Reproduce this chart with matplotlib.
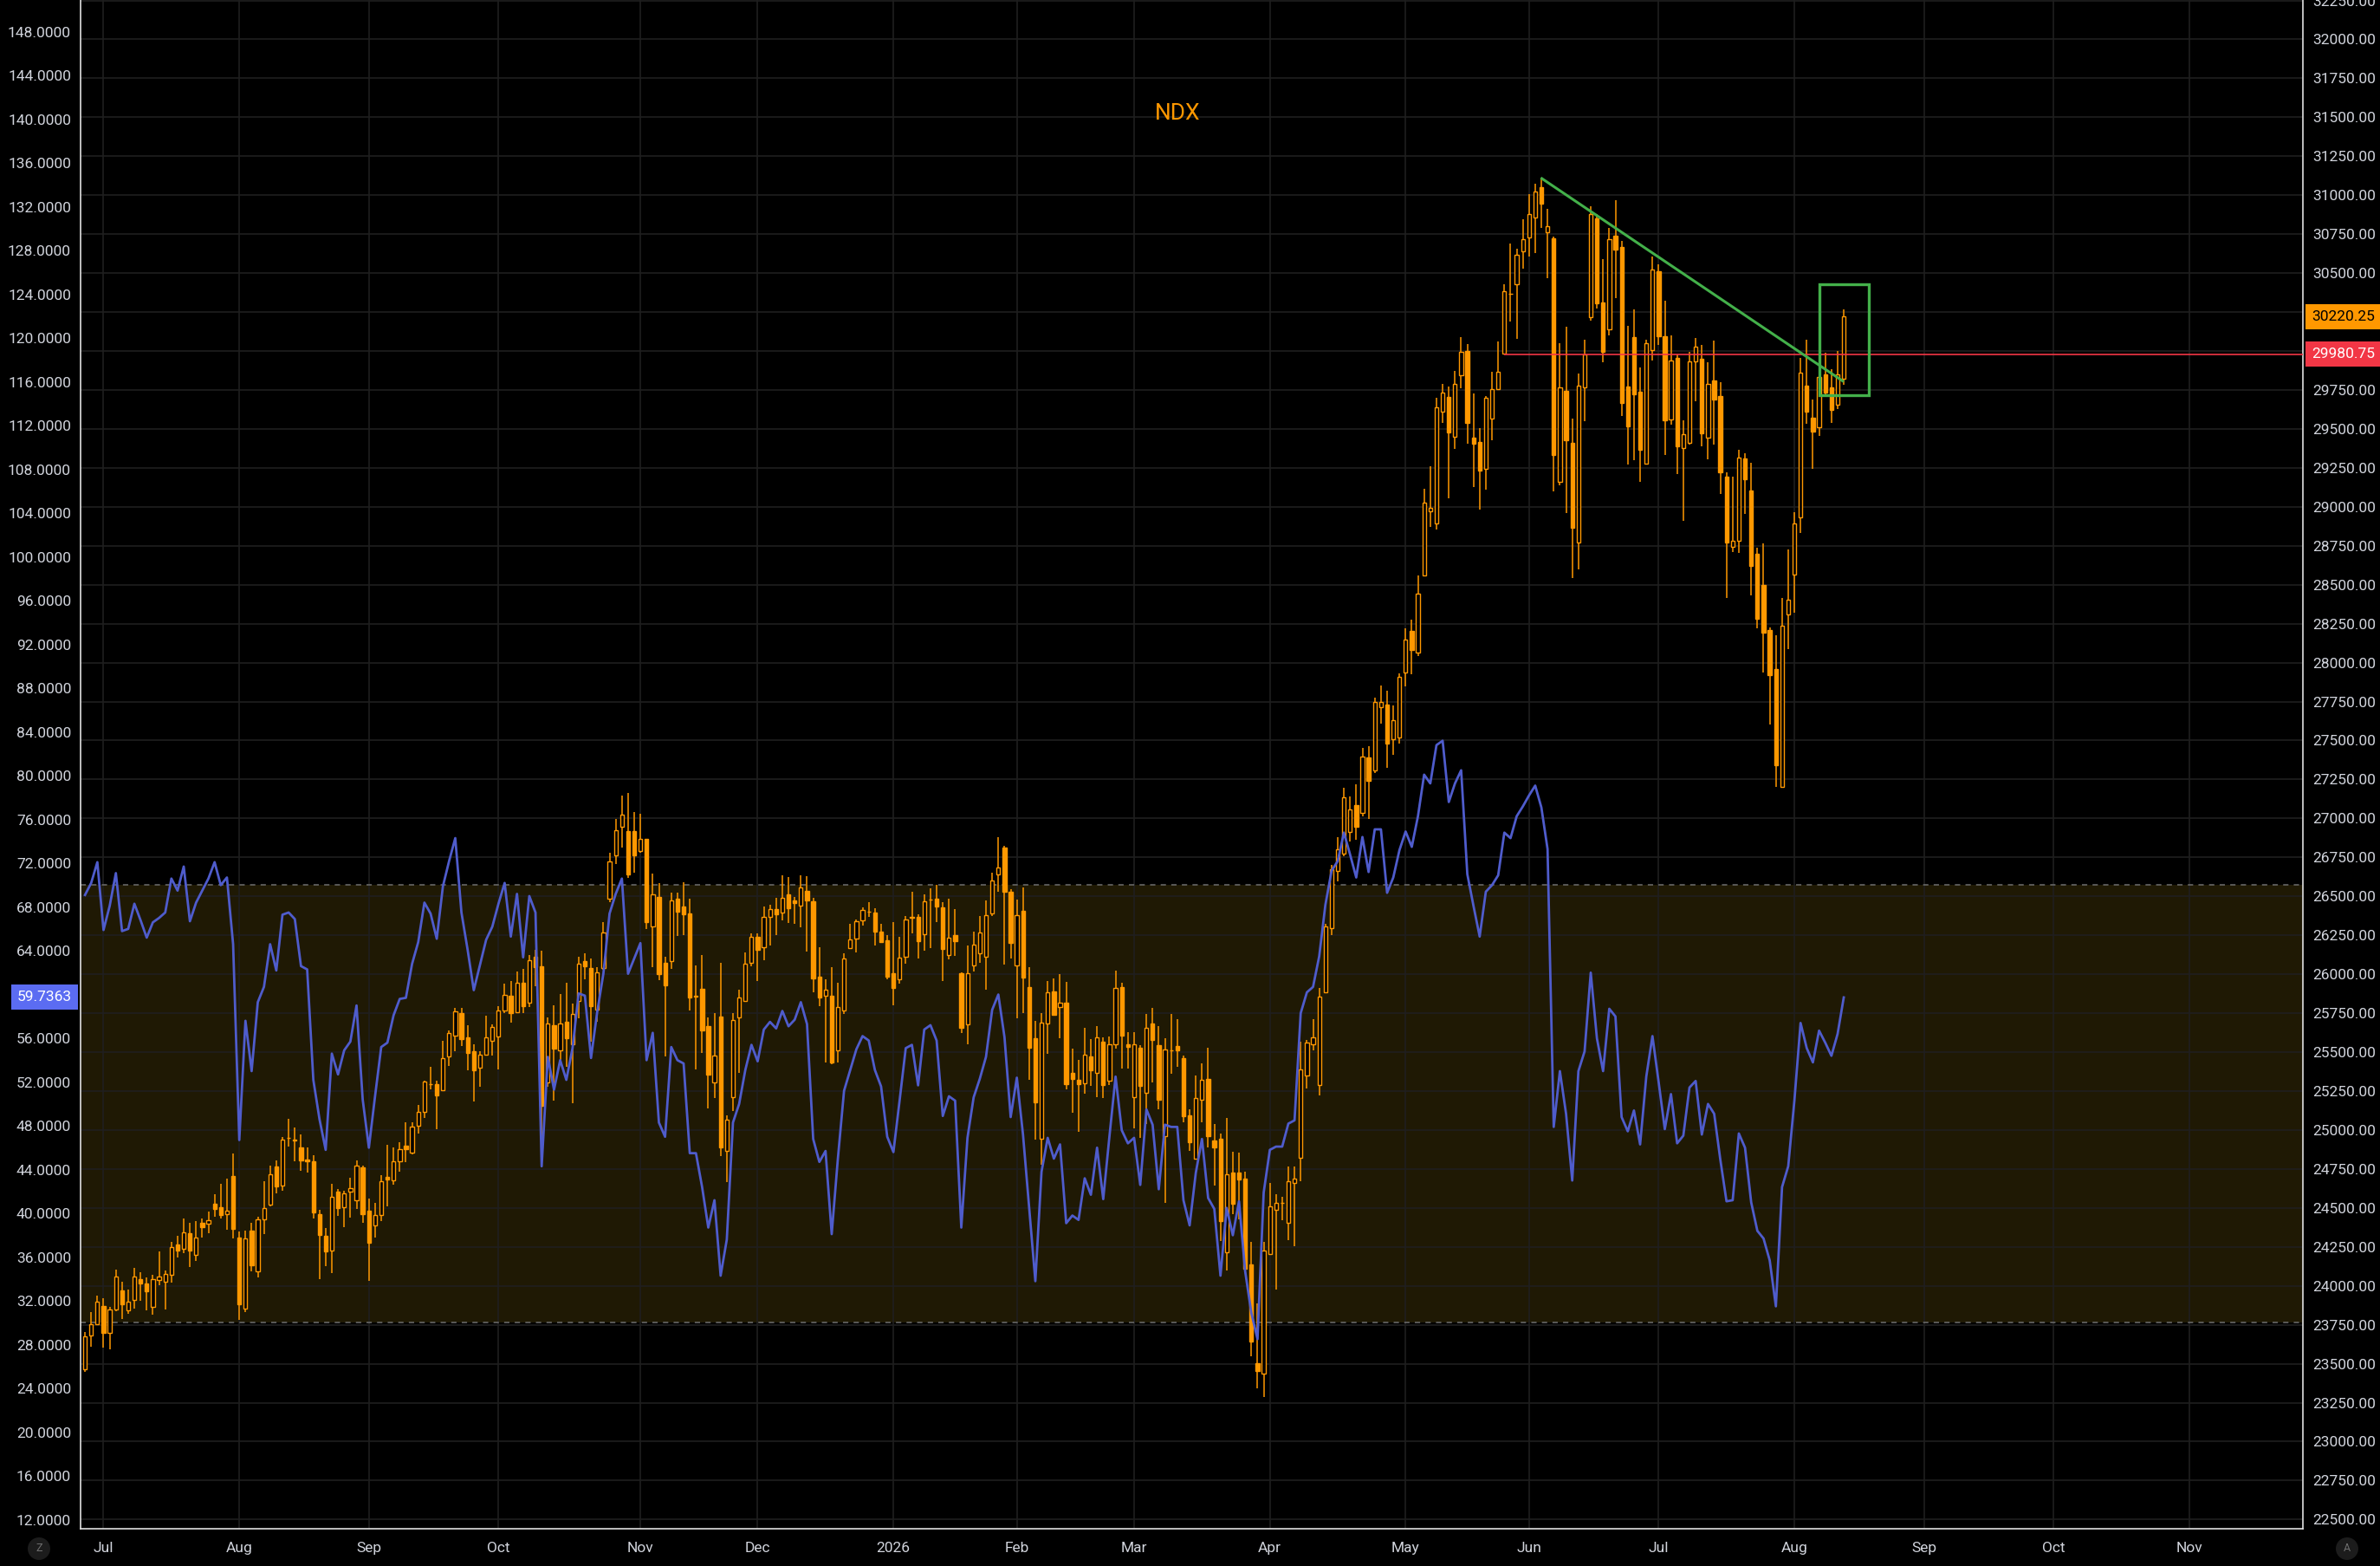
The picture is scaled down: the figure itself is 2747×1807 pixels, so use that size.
import matplotlib
matplotlib.use("Agg")
import matplotlib.pyplot as plt
import matplotlib.transforms as mtrans
from matplotlib.patches import Rectangle, Circle
import numpy as np
import pandas as pd

# daily bars, first one on 2025-06-26
opens = [23464, 23681, 23753, 23868, 23697, 23847, 23973, 23842, 23910, 24045,
         24013, 23865, 24036, 24024, 24069, 24263, 24237, 24340, 24197, 24407,
         24398, 24527, 24505, 24459, 24706, 24312, 23854, 24356, 24094, 24424,
         24524, 24765, 24641, 24950, 24935, 24889, 24810, 24800, 24461, 24323,
         24228, 24606, 24505, 24606, 24548, 24763, 24480, 24386, 24456, 24702,
         24676, 24800, 24900, 24854, 25029, 25115, 25295, 25297, 25255, 25470,
         25606, 25751, 25594, 25505, 25400, 25482, 25575, 25599, 25767, 25863,
         25756, 25948, 25820, 26114, 26050, 25303, 25675, 25511, 25697, 25550,
         25826, 26086, 26041, 25773, 26039, 26486, 26763, 26944, 26916, 26916,
         26792, 26867, 26309, 26497, 26075, 26082, 26484, 26433, 26388, 25860,
         25905, 25665, 25305, 25726, 24867, 25213, 25724, 25826, 26071, 26241,
         26171, 26369, 26416, 26395, 26512, 26475, 26441, 26533, 26467, 25986,
         25863, 25863, 25511, 25767, 26165, 26231, 26348, 26399, 26395, 26271,
         26216, 26007, 25965, 26112, 26369, 26370, 26259, 26478, 26485, 26430,
         26124, 26252, 26004, 25678, 26059, 26136, 26112, 26391, 26642, 26813,
         26528, 26059, 26408, 25919, 25589, 24946, 25686, 25890, 25789, 25818,
         25368, 25320, 25300, 25474, 25368, 25565, 25317, 25548, 25919, 25551,
         25211, 25529, 25240, 25686, 25546, 24963, 25512, 25541, 25464, 25096,
         24814, 25197, 25329, 24934, 24946, 24217, 24727, 24727, 24686, 24137,
         23506, 23434, 24205, 24489, 24530, 24406, 24660, 24820, 25351, 25552,
         25290, 25884, 26298, 26663, 26773, 26911, 27085, 27038, 27389, 27306,
         27712, 27730, 27508, 27518, 27939, 28202, 28067, 28559, 28972, 28891,
         29610, 29707, 29452, 29845, 30000, 29444, 29414, 29243, 29564, 29758,
         29985, 30365, 30429, 30638, 30727, 30855, 31054, 30763, 30725, 29158,
         29747, 29412, 28769, 29767, 30217, 30854, 30310, 30141, 30741, 30666,
         29771, 30091, 29741, 29278, 30006, 30510, 30093, 29562, 29956, 29375,
         29411, 29936, 29952, 29446, 29809, 29710, 29193, 28745, 28780, 29311,
         29105, 28699, 28499, 28211, 27959, 27202, 28312, 28564, 28931, 29779,
         29571, 29512, 29851, 29765, 29658, 29825]
highs = [23702, 23830, 23936, 23919, 23865, 24106, 24029, 23975, 24113, 24087,
         24052, 24069, 24223, 24099, 24281, 24323, 24431, 24407, 24414, 24431,
         24477, 24590, 24657, 24690, 24847, 24351, 24356, 24407, 24445, 24671,
         24769, 24807, 24956, 25073, 25015, 24970, 24886, 24840, 24489, 24372,
         24653, 24620, 24613, 24692, 24807, 24770, 24559, 24531, 24713, 24907,
         24889, 24924, 25047, 25050, 25162, 25318, 25405, 25318, 25575, 25641,
         25783, 25786, 25671, 25552, 25505, 25734, 25676, 25793, 25937, 25958,
         26016, 26037, 26124, 26154, 26150, 25724, 25803, 25873, 25943, 25814,
         26114, 26133, 26099, 26043, 26335, 26778, 26995, 27146, 27161, 27041,
         27029, 26870, 26644, 26586, 26114, 26522, 26522, 26592, 26484, 26054,
         26122, 25720, 25750, 26071, 25096, 25752, 25899, 26139, 26260, 26262,
         26433, 26448, 26490, 26633, 26622, 26497, 26633, 26629, 26490, 26171,
         25965, 26043, 25943, 26133, 26326, 26352, 26431, 26465, 26426, 26326,
         26250, 26337, 26239, 26373, 26528, 26384, 26514, 26553, 26574, 26461,
         26485, 26420, 26010, 26187, 26271, 26372, 26473, 26649, 26880, 26822,
         26545, 26480, 26557, 26047, 25698, 25753, 25958, 25975, 25999, 25951,
         25524, 25452, 25657, 25585, 25669, 25594, 25601, 26023, 25946, 25630,
         25630, 25546, 25746, 25782, 25669, 25589, 25746, 25710, 25476, 25132,
         25349, 25426, 25529, 25036, 24975, 25076, 24862, 24855, 24735, 24284,
         23885, 24284, 24662, 24586, 24572, 24765, 24765, 25566, 25580, 25710,
         25911, 26326, 26699, 26878, 27196, 27141, 27218, 27453, 27466, 27773,
         27852, 27819, 27725, 27929, 28222, 28278, 28559, 29115, 29258, 29699,
         29789, 29771, 29873, 30090, 30046, 29727, 29503, 29712, 29865, 30064,
         30429, 30689, 30658, 30847, 31008, 31072, 31115, 30913, 30736, 30053,
         30158, 29565, 29858, 30075, 30927, 30877, 30588, 30788, 30969, 30704,
         30160, 30265, 29893, 30071, 30606, 30556, 30321, 30099, 29976, 29557,
         29997, 30081, 30041, 29926, 30065, 29799, 29220, 29193, 29365, 29345,
         29280, 28735, 28766, 28225, 28176, 28417, 28725, 28963, 29956, 30073,
         29686, 29865, 29987, 29886, 30001, 30269]
lows = [23445, 23608, 23749, 23604, 23592, 23837, 23786, 23819, 23854, 23905,
        23842, 23814, 24006, 23847, 24022, 24181, 24211, 24120, 24157, 24309,
        24340, 24445, 24431, 24358, 24302, 23784, 23830, 24092, 24052, 24333,
        24508, 24594, 24608, 24893, 24800, 24741, 24727, 24433, 24041, 24127,
        24083, 24449, 24377, 24438, 24496, 24403, 24034, 24309, 24414, 24508,
        24648, 24730, 24793, 24842, 24975, 25080, 25262, 25008, 25251, 25414,
        25508, 25540, 25386, 25181, 25279, 25477, 25477, 25391, 25753, 25692,
        25752, 25752, 25792, 25922, 24926, 25277, 25186, 25437, 25405, 25171,
        25718, 25965, 25565, 25697, 26029, 26465, 26707, 26814, 26618, 26650,
        26778, 26288, 26043, 25960, 25473, 26033, 26246, 26252, 25767, 25390,
        25494, 25139, 25203, 24835, 24667, 25122, 25367, 25824, 26050, 25954,
        26090, 26182, 26252, 26348, 26331, 26324, 26299, 26146, 25884, 25794,
        25433, 25422, 25433, 25745, 26160, 26139, 26314, 26369, 26182, 26199,
        25965, 25799, 25937, 26065, 26263, 26100, 26150, 26167, 26336, 25955,
        26095, 26119, 25625, 25553, 26016, 26071, 25898, 26372, 26528, 26064,
        26100, 25715, 25753, 25320, 24939, 24775, 25488, 25734, 25589, 25259,
        25113, 24987, 25233, 25284, 25211, 25204, 25288, 25524, 25397, 25397,
        25011, 24951, 25036, 25305, 25132, 24535, 25361, 25404, 25048, 24867,
        24814, 25048, 24886, 24645, 24289, 24096, 24458, 24429, 24096, 23550,
        23343, 23285, 24198, 23978, 24420, 24296, 24254, 24674, 25268, 25511,
        25221, 25876, 26251, 26594, 26759, 26851, 26864, 27016, 26997, 27290,
        27610, 27322, 27406, 27480, 27850, 27926, 28041, 28554, 28870, 28852,
        29541, 29056, 29370, 29763, 29406, 29128, 28980, 29112, 29426, 29753,
        29980, 30192, 30077, 30531, 30605, 30630, 30791, 30467, 29097, 29139,
        28960, 28541, 28600, 29547, 30195, 30273, 29930, 30102, 30340, 29584,
        29269, 29302, 29162, 29278, 29940, 30038, 29334, 29528, 29210, 28911,
        29401, 29678, 29387, 29307, 29401, 29085, 28413, 28711, 28705, 28957,
        28433, 28219, 27938, 27605, 27202, 27202, 28084, 28318, 28834, 29533,
        29246, 29456, 29724, 29539, 29627, 29784]
closes = [23674, 23751, 23896, 23697, 23847, 24062, 23884, 23900, 24057, 24017,
          23964, 24041, 24057, 24078, 24251, 24228, 24344, 24228, 24312, 24377,
          24421, 24494, 24456, 24484, 24368, 23884, 24302, 24134, 24424, 24501,
          24716, 24639, 24940, 24952, 24937, 24807, 24800, 24473, 24328, 24223,
          24573, 24501, 24594, 24629, 24772, 24461, 24279, 24452, 24674, 24683,
          24800, 24877, 24877, 25022, 25115, 25311, 25297, 25220, 25461, 25622,
          25760, 25582, 25494, 25386, 25484, 25594, 25659, 25769, 25865, 25752,
          25948, 25794, 26092, 26043, 25154, 25682, 25522, 25686, 25590, 25745,
          26065, 26050, 25794, 26011, 26267, 26724, 26927, 27027, 26639, 26763,
          26867, 26335, 26512, 26001, 25926, 26475, 26401, 26384, 25852, 25858,
          25639, 25356, 25479, 24888, 25065, 25707, 25848, 26065, 26241, 26154,
          26369, 26420, 26384, 26490, 26426, 26458, 26558, 26473, 25975, 25852,
          25899, 25431, 25792, 26103, 26224, 26341, 26414, 26400, 26271, 26207,
          25984, 25911, 26107, 26352, 26363, 26215, 26468, 26480, 26432, 26160,
          26235, 26215, 25657, 26004, 26191, 26268, 26379, 26601, 26683, 26528,
          26199, 26379, 25979, 25529, 25180, 25690, 25883, 25741, 25818, 25296,
          25329, 25296, 25481, 25385, 25597, 25288, 25553, 25914, 25606, 25536,
          25548, 25284, 25657, 25577, 25192, 25517, 25514, 25512, 25088, 24922,
          25204, 25324, 24963, 24891, 24414, 24718, 24525, 24682, 24108, 23644,
          23453, 24224, 24508, 24530, 24532, 24669, 24688, 25387, 25561, 25594,
          25856, 26306, 26676, 26801, 27135, 27058, 26947, 27395, 27243, 27748,
          27750, 27480, 27633, 27908, 28146, 28082, 28444, 29028, 28993, 29638,
          29732, 29477, 29789, 29995, 29541, 29406, 29235, 29702, 29755, 29868,
          30383, 30367, 30618, 30717, 30878, 31023, 30944, 30801, 29334, 29769,
          29427, 28864, 29775, 29977, 30877, 30306, 29995, 30719, 30653, 29664,
          29514, 29723, 29367, 30052, 30525, 30093, 29556, 29941, 29391, 29468,
          29936, 30027, 29472, 29791, 29690, 29224, 28772, 28780, 29315, 29179,
          28618, 28279, 28191, 27918, 27341, 28239, 28402, 28891, 29863, 29609,
          29484, 29835, 29734, 29623, 29851, 30220.25]
# RSI line on the left scale
rsi = [69.1, 70.2, 72.1, 65.9, 68.1, 71.1, 65.8, 66.0, 68.3, 66.8,
       65.2, 66.6, 67.0, 67.5, 70.6, 69.5, 71.7, 66.7, 68.4, 69.5,
       70.6, 72.1, 70.0, 70.7, 64.6, 46.7, 57.6, 53.0, 59.3, 60.7,
       64.6, 62.2, 67.3, 67.5, 66.9, 62.6, 62.3, 52.2, 48.6, 45.8,
       54.6, 52.7, 54.9, 55.7, 59.0, 50.4, 46.0, 50.7, 55.2, 55.6,
       58.1, 59.6, 59.7, 62.8, 64.8, 68.4, 67.4, 65.1, 69.9, 72.2,
       74.3, 67.5, 64.1, 60.4, 62.7, 65.0, 66.2, 68.3, 70.2, 65.3,
       69.2, 63.4, 69.0, 67.5, 44.3, 54.3, 51.3, 54.0, 52.2, 55.1,
       60.1, 59.9, 54.2, 58.4, 61.9, 67.4, 69.2, 70.6, 61.9, 63.3,
       64.7, 54.0, 56.5, 48.3, 47.0, 55.2, 54.0, 53.7, 45.5, 45.5,
       42.4, 38.7, 41.2, 34.3, 37.6, 48.3, 50.0, 53.1, 55.4, 53.9,
       56.8, 57.5, 56.9, 58.5, 57.1, 57.7, 59.3, 57.3, 46.8, 44.7,
       45.7, 38.1, 45.0, 51.2, 53.1, 55.0, 56.2, 55.8, 53.1, 51.6,
       47.0, 45.6, 50.3, 55.1, 55.4, 51.7, 56.8, 57.2, 55.8, 48.9,
       50.7, 50.3, 38.7, 46.9, 50.6, 52.3, 54.3, 58.6, 60.0, 56.1,
       48.8, 52.4, 47.2, 40.5, 33.8, 43.8, 46.9, 45.0, 46.3, 39.1,
       39.8, 39.4, 43.2, 41.7, 46.0, 41.3, 47.0, 52.5, 47.6, 46.4,
       46.9, 42.6, 49.5, 48.1, 42.2, 48.1, 47.9, 47.9, 41.2, 38.9,
       43.7, 46.8, 41.4, 40.4, 34.3, 40.5, 38.0, 41.1, 34.7, 30.9,
       28.5, 41.9, 45.8, 46.1, 46.1, 48.2, 48.5, 58.3, 60.2, 60.7,
       63.5, 68.2, 71.3, 72.2, 74.8, 72.8, 70.7, 74.4, 71.2, 75.1,
       75.1, 69.3, 70.7, 73.2, 74.9, 73.5, 76.3, 80.1, 79.3, 82.8,
       83.2, 77.6, 79.3, 80.5, 71.0, 68.1, 65.3, 69.4, 70.0, 70.9,
       74.8, 74.3, 76.3, 77.2, 78.2, 79.1, 77.1, 73.3, 47.9, 53.0,
       49.1, 43.0, 53.0, 54.8, 62.0, 56.0, 53.0, 58.7, 58.0, 48.8,
       47.5, 49.4, 46.3, 52.5, 56.2, 52.0, 47.7, 50.9, 46.4, 47.1,
       51.5, 52.1, 47.2, 50.0, 49.1, 44.9, 41.1, 41.2, 47.3, 46.0,
       41.0, 38.4, 37.7, 35.7, 31.5, 42.4, 44.3, 50.3, 57.4, 55.1,
       53.8, 56.7, 55.6, 54.4, 56.4, 59.7363]

first_day = "2025-06-26"
holidays = ["2025-07-04", "2025-09-01", "2025-11-27", "2025-12-25",
            "2026-01-01", "2026-01-19", "2026-02-16", "2026-05-25",
            "2026-06-19", "2026-07-03", "2026-09-07", "2026-11-26", "2026-12-25"]

last_price = 30220.25
level_price = 29980.75
level_start = 230          # bar where the red level starts
trend_x = [235.9, 285.0]   # green trendline (bar, price)
trend_y = [31112, 29803]
box_x = [281.0, 289.1]     # green box
box_y = [29714, 30430]
band = [30, 70]

ORANGE = "#ff9800"
BLUE = "#4f5ccc"
RED = "#f23645"
GREEN = "#43b04a"
GRID = "#1f1f1f"
TXT = "#d1d4dc"

plt.rcParams["font.family"] = ["Roboto", "DejaVu Sans"]

sessions = pd.bdate_range(first_day, "2026-12-31")
sessions = sessions[~sessions.isin(pd.to_datetime(holidays))]

o = np.array(opens, dtype=float)
h = np.array(highs, dtype=float)
l = np.array(lows, dtype=float)
c = np.array(closes, dtype=float)
x = np.arange(len(c))
up = c >= o

XMIN, XMAX = -0.7, 359.4

# first trading day of every month -> label
month_pos, month_lab = [], []
periods = sessions.to_period("M")
for per in periods.unique():
    idx = int(np.argmax(periods == per))
    if sessions[idx].month == 1:
        lab = str(sessions[idx].year)
    else:
        lab = sessions[idx].strftime("%b")
    # tradingview drops labels that would touch the price scale
    if 0 < idx < XMAX - 5:
        month_pos.append(idx)
        month_lab.append(lab)

fig = plt.figure(figsize=(27.47, 18.07), dpi=100, facecolor="black")
ax = fig.add_axes([0.0339, 0.0238, 0.9337, 0.9762])
ax.set_facecolor("black")
ax_rsi = ax.twinx()
ax.yaxis.tick_right()
ax_rsi.yaxis.tick_left()

ax.set_xlim(XMIN, XMAX)
ax.set_ylim(22441, 32253)
ax_rsi.set_ylim(11.17, 150.91)

# grid
price_ticks = np.arange(22500, 32251, 250)
for p in price_ticks:
    ax.axhline(p, color=GRID, lw=1.2, zorder=1)
for m in month_pos:
    ax.axvline(m, color=GRID, lw=1.2, zorder=1)

# RSI band behind the candles
blend = mtrans.blended_transform_factory(ax.transAxes, ax_rsi.transData)
ax.add_patch(Rectangle((0, band[0]), 1, band[1] - band[0], transform=blend,
                       facecolor="#1f1904", edgecolor="none", zorder=0.5))
for b in band:
    ax.plot([0, 1], [b, b], transform=blend, color="#6e6e6e", lw=1.1,
            dashes=(4, 4), zorder=1.5)

# candles
ax.vlines(x, l, h, color=ORANGE, lw=1.1, zorder=3)
ax.bar(x, np.abs(c - o), bottom=np.minimum(o, c), width=0.6,
       color=np.where(up, "black", ORANGE), edgecolor=ORANGE,
       linewidth=1.0, zorder=4)

# drawings
ax.hlines(level_price, level_start, XMAX, color=RED, lw=1.2, zorder=5)
ax.plot(trend_x, trend_y, color=GREEN, lw=2.2, zorder=6, solid_capstyle="butt")
ax.add_patch(Rectangle((box_x[0], box_y[0]), box_x[1] - box_x[0], box_y[1] - box_y[0],
                       fill=False, edgecolor=GREEN, lw=2.4, zorder=6))

ax_rsi.plot(x, rsi, color=BLUE, lw=2.0, zorder=5)

# axes styling
ax.spines["top"].set_visible(False)
for s in ["left", "right", "bottom"]:
    ax.spines[s].set_color("#e0e0e0")
    ax.spines[s].set_linewidth(1.2)
for s in ax_rsi.spines.values():
    s.set_visible(False)

plabels = ["" if p in (30000, 30250) else "%.2f" % p for p in price_ticks]
ax.set_yticks(price_ticks)
ax.set_yticklabels(plabels)
ax.tick_params(axis="y", length=0, pad=8, labelcolor=TXT, labelsize=12.5)

rsi_ticks = np.arange(12, 149, 4)
ax_rsi.set_yticks(rsi_ticks)
ax_rsi.set_yticklabels(["" if r == 60 else "%.4f" % r for r in rsi_ticks])
ax_rsi.tick_params(axis="y", length=0, pad=8, labelcolor=TXT, labelsize=12.5)

ax.set_xticks(month_pos)
ax.set_xticklabels(month_lab)
ax.tick_params(axis="x", length=0, pad=11, labelcolor=TXT, labelsize=12.5)

# price labels on the scales
right_tr = mtrans.blended_transform_factory(ax.transAxes, ax.transData)
ax.text(1.004, last_price, "%.2f" % last_price, transform=right_tr, ha="left",
        va="center", color="black", fontsize=12.5, zorder=10, clip_on=False,
        bbox=dict(boxstyle="square,pad=0.4", fc=ORANGE, ec="none"))
ax.text(1.004, level_price, "%.2f" % level_price, transform=right_tr, ha="left",
        va="center", color="white", fontsize=12.5, zorder=10, clip_on=False,
        bbox=dict(boxstyle="square,pad=0.4", fc=RED, ec="none"))
left_tr = mtrans.blended_transform_factory(ax_rsi.transAxes, ax_rsi.transData)
ax_rsi.text(-0.004, rsi[-1], "%.4f" % rsi[-1], transform=left_tr, ha="right",
            va="center", color="white", fontsize=12.5, clip_on=False,
            bbox=dict(boxstyle="square,pad=0.4", fc="#5b6cf2", ec="none"))

fig.text(0.4947, 0.9275, "NDX", color=ORANGE, fontsize=19, ha="center", va="center")

# little round buttons in the bottom corners
for cx, letter in [(0.45, "Z"), (27.09, "A")]:
    fig.add_artist(Circle((cx, 0.20), 0.13, transform=fig.dpi_scale_trans,
                          facecolor="#1c1c1c", edgecolor="none"))
    fig.text(cx / 27.47, 0.20 / 18.07, letter, color="#6f6f6f", fontsize=9,
             ha="center", va="center")

fig.savefig("out.png", dpi=100, facecolor="black")
